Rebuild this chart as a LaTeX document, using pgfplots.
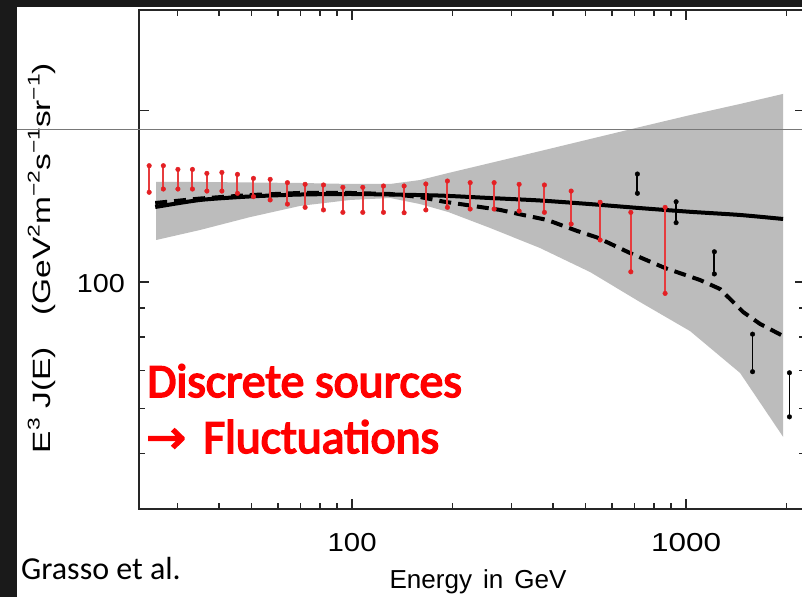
\documentclass[border=0pt]{standalone}
\usepackage{fontspec}
\setmainfont{Liberation Sans}
\newfontfamily\carlito{Carlito}
\newfontfamily\carlitofb{Carlito}[FakeBold=3.6]
\newfontfamily\dejavufb{DejaVu Sans}[FakeBold=3]
\usepackage{graphicx}
\usepackage{pgfplots}
\pgfplotsset{compat=1.18}
\usepackage{pgfplotstable}
\definecolor{bandgray}{RGB}{188,188,188}
\definecolor{dred}{RGB}{228,32,36}
\definecolor{barred}{RGB}{230,60,62}
\definecolor{strip}{RGB}{26,26,26}
\definecolor{hline}{RGB}{120,120,120}
\newcommand{\sups}[1]{\raisebox{0.42em}{\fontsize{17}{17}\selectfont #1}}

\pgfplotstableread{
x lo hi
24.67 143.7 160.0
27.2 145.6 160.0
30.08 145.6 157.6
33.25 145.6 157.6
36.73 144.4 155.1
40.73 144.4 155.7
45.35 143.1 154.5
50.64 141.2 152.0
56.82 139.3 151.4
64.0 137.0 149.4
72.3 135.2 148.4
82.05 133.8 148.0
93.8 132.5 146.6
107.6 132.5 146.6
124.1 132.5 147.4
143.1 132.3 147.4
166.2 133.8 148.6
192.9 135.2 150.4
225.6 134.3 149.4
266.1 134.3 149.4
316.2 133.2 148.4
376.5 132.5 148.0
452.7 126.4 144.4
552.7 118.5 138.0
683.1 104.2 132.5
865.2 95.5 135.2
}\reddata

\pgfplotstableread{
x lo hi
714.7 143.1 154.7
933.3 127.1 138.3
1215 103.3 113.0
1581 69.6 81.0
2039 58.0 69.3
}\blackdata

\begin{document}
\begin{tikzpicture}
\useasboundingbox (0pt,0pt) rectangle (802pt,597pt);
\fill[white] (0pt,0pt) rectangle (802pt,597pt);
\begin{scope}
\clip (0pt,0pt) rectangle (802pt,597pt);
\begin{axis}[
  at={(139pt,88.2pt)}, anchor=south west,
  scale only axis, width=666pt, height=498.7pt,
  xmode=log, ymode=log,
  xmin=23, xmax=2270, ymin=40, ymax=300,
  axis line style={line width=2pt, black!85},
  every tick/.style={line width=1.6pt, black!85},
  tick align=inside,
  major tick length=10pt, minor tick length=6pt,
  xtick={100,1000},
  xticklabels={\resizebox{49pt}{\height}{100},\resizebox{70pt}{\height}{1000}},
  minor xtick={30,40,50,60,70,80,90,200,300,400,500,600,700,800,900,2000},
  ytick={100,200},
  yticklabels={\resizebox{48pt}{\height}{100},{}},
  minor ytick={50,60,70,80,90},
  xticklabel style={font=\fontsize{26}{26}\selectfont, inner sep=0pt, anchor=base, yshift=-43pt},
  yticklabel style={font=\fontsize{26}{26}\selectfont, inner sep=0pt, anchor=base east, xshift=-14pt, yshift=-11pt},
]
% uncertainty band
\addplot[fill=bandgray, draw=none] coordinates {
 (25.9,149.8) (35.06,149.8) (49.5,149.5) (69.9,149.2) (98.6,148.6) (130.0,148.6)
 (159.8,151.0) (193.9,155.3) (258.9,161.7) (365.5,169.7) (515.9,178.2) (728.4,187.1)
 (1028,196.3) (1451,205.3) (1952,213.8)
 (1952,53.5) (1451,69.25) (1028,82.0) (728.4,92.2) (515.9,104.1) (365.5,114.7)
 (258.9,124.4) (193.9,132.7) (159.8,137.0) (130.0,140.4) (98.6,139.3) (69.9,136.0)
 (49.5,130.0) (35.06,123.4) (25.9,118.5)
} -- cycle;
% solid model
\addplot[black, line width=4pt, no marks, smooth, tension=0.4] coordinates {
 (25.72,135.4) (35.06,139.3) (49.5,141.3) (69.9,142.4) (98.6,142.7) (130.0,142.4)
 (183.4,141.8) (258.9,140.4) (365.5,139.0) (515.9,137.0) (728.4,134.8) (1028,132.8)
 (1451,131.1) (1952,129.0)
};
% dashed model
\addplot[black, line width=4pt, no marks, dash pattern=on 12pt off 7pt] coordinates {
 (25.72,137.6) (35.06,140.1) (49.5,142.1) (69.9,143.3) (98.6,143.3) (130.0,142.7)
 (159.8,140.97) (187.3,138.4) (225.6,136.2) (277.4,133.8) (325.1,131.1) (383.6,128.5)
 (471.8,122.9) (541.4,119.7) (679.8,112.4) (865.2,105.8) (1101,100.8) (1264,97.2)
 (1481,88.6) (1666,84.4) (1952,80.4)
};
% red data
\addplot[only marks, mark=*, mark size=2.3pt, color=dred, mark options={fill=dred, draw=dred},
  error bars/.cd, y dir=plus, y explicit, error mark=*,
  error mark options={mark size=2.3pt, fill=dred, draw=dred},
  error bar style={line width=2pt, draw=barred, solid}]
  table[x=x, y=lo, y error expr=\thisrow{hi}-\thisrow{lo}] {\reddata};
% black data
\addplot[only marks, mark=*, mark size=2.3pt, color=black, mark options={fill=black},
  error bars/.cd, y dir=plus, y explicit, error mark=*,
  error mark options={mark size=2.3pt, fill=black, draw=black},
  error bar style={line width=1.8pt, draw=black, solid}]
  table[x=x, y=lo, y error expr=\thisrow{hi}-\thisrow{lo}] {\blackdata};
\end{axis}
% axis titles
\node[rotate=90, anchor=base, inner sep=0pt, font=\fontsize{25}{25}\selectfont] at (50pt,339pt)
  {\resizebox{390pt}{\height}{E\sups{3} J(E)\hspace{24pt}(GeV\sups{2}m\sups{−2}s\sups{−1}sr\sups{−1})}};
\node[anchor=base, inner sep=0pt, font=\fontsize{26}{26}\selectfont] at (478pt,9pt)
  {\resizebox{177pt}{\height}{Energy\hspace{11pt}in\hspace{11pt}GeV}};
% annotations
\node[anchor=base west, inner sep=0pt, text=red, font=\carlitofb\fontsize{47.5}{47.5}\selectfont] at (147pt,200pt) {Discrete sources};
\node[anchor=base west, inner sep=0pt, text=red, font=\dejavufb\fontsize{46}{46}\selectfont] at (146pt,144pt) {\resizebox{40pt}{\height}{→}};
\node[anchor=base west, inner sep=0pt, text=red, font=\carlitofb\fontsize{47.5}{47.5}\selectfont] at (203pt,144pt) {Fluctuations};
\node[anchor=base west, inner sep=0pt, font=\carlito\fontsize{32}{32}\selectfont] at (21pt,18pt) {Grasso et al.};
% slide artefacts
\draw[hline, line width=1pt] (17pt,467pt) -- (802pt,467pt);
\fill[strip] (0pt,0pt) rectangle (17pt,597pt);
\fill[strip] (0pt,590pt) rectangle (802pt,597pt);
\end{scope}
\end{tikzpicture}
\end{document}
